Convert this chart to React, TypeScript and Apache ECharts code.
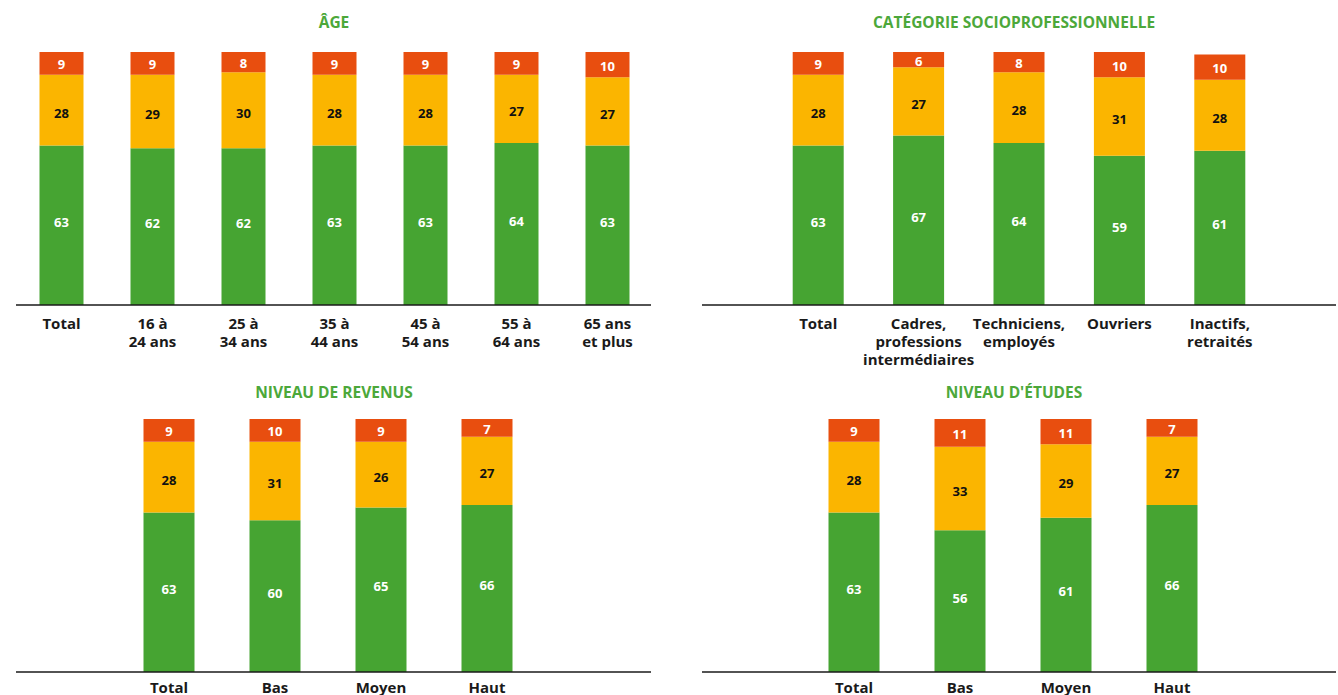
import React, { useEffect, useRef } from "react";
import * as echarts from "echarts";

const ageCategories = ["Total", "16 à\n24 ans", "25 à\n34 ans", "35 à\n44 ans", "45 à\n54 ans", "55 à\n64 ans", "65 ans\net plus"];
const ageGreen = [63, 62, 62, 63, 63, 64, 63];
const ageYellow = [28, 29, 30, 28, 28, 27, 27];
const ageRed = [9, 9, 8, 9, 9, 9, 10];

const cspCategories = ["Total", "Cadres,\nprofessions\nintermédiaires", "Techniciens,\nemployés", "Ouvriers", "Inactifs,\nretraités"];
const cspGreen = [63, 67, 64, 59, 61];
const cspYellow = [28, 27, 28, 31, 28];
const cspRed = [9, 6, 8, 10, 10];

const revCategories = ["Total", "Bas", "Moyen", "Haut"];
const revGreen = [63, 60, 65, 66];
const revYellow = [28, 31, 26, 27];
const revRed = [9, 10, 9, 7];

const etuCategories = ["Total", "Bas", "Moyen", "Haut"];
const etuGreen = [63, 56, 61, 66];
const etuYellow = [28, 33, 29, 27];
const etuRed = [9, 11, 11, 7];

const titles = ["ÂGE", "CATÉGORIE SOCIOPROFESSIONNELLE", "NIVEAU DE REVENUS", "NIVEAU D'ÉTUDES"];

const GREEN = "#46A432";
const YELLOW = "#FBB500";
const RED = "#E84E0F";
const FONT = "'Open Sans'";

export default function App() {
  const ref = useRef<HTMLDivElement>(null);
  useEffect(() => {
    if (!ref.current) return;
    const chart = echarts.init(ref.current, null, { renderer: "svg" });
    const panels = [
      { cats: ageCategories, g: ageGreen, y: ageYellow, r: ageRed, grid: { left: 16, width: 637, top: 52, height: 253 }, bw: 44, title: { x: 334, y: 22 }, line: [16, 651, 305], margin: 9, lh: 18 },
      { cats: cspCategories, g: cspGreen, y: cspYellow, r: cspRed, grid: { left: 768, width: 502, top: 52, height: 253 }, bw: 51, title: { x: 1014, y: 22 }, line: [702, 1336, 305], margin: 9, lh: 18 },
      { cats: revCategories, g: revGreen, y: revYellow, r: revRed, grid: { left: 116, width: 424, top: 419, height: 253 }, bw: 51, title: { x: 334, y: 392 }, line: [16, 651, 672], margin: 8, lh: 14 },
      { cats: etuCategories, g: etuGreen, y: etuYellow, r: etuRed, grid: { left: 801, width: 424, top: 419, height: 253 }, bw: 51, title: { x: 1014, y: 392 }, line: [702, 1336, 672], margin: 8, lh: 14 },
    ];
    const grids: any[] = [];
    const xAxes: any[] = [];
    const yAxes: any[] = [];
    const series: any[] = [];
    const graphics: any[] = [];
    panels.forEach((p, i) => {
      grids.push({ ...p.grid, containLabel: false, outerBoundsMode: "none" });
      xAxes.push({
        type: "category",
        gridIndex: i,
        data: p.cats,
        axisLine: { show: false },
        axisTick: { show: false },
        axisLabel: {
          interval: 0,
          margin: p.margin,
          color: "#1a1a1a",
          fontFamily: FONT,
          fontWeight: "bold",
          fontSize: 15,
          lineHeight: p.lh,
          verticalAlign: "top",
        },
      });
      yAxes.push({ type: "value", gridIndex: i, min: 0, max: 100, show: false, splitLine: { show: false } });
      const mk = (data: number[], color: string, labelColor: string, dy: number) => ({
        type: "bar",
        xAxisIndex: i,
        yAxisIndex: i,
        stack: "s" + i,
        data,
        barWidth: p.bw,
        itemStyle: { color },
        label: {
          show: true,
          position: "inside",
          offset: [0, dy],
          color: labelColor,
          fontFamily: FONT,
          fontWeight: "bold",
          fontSize: 13,
        },
      });
      series.push(mk(p.g, GREEN, "#ffffff", -3.5));
      series.push(mk(p.y, YELLOW, "#111111", 2.5));
      series.push(mk(p.r, RED, "#ffffff", 1));
      graphics.push({
        type: "text",
        x: p.title.x,
        y: p.title.y,
        style: {
          text: titles[i],
          align: "center",
          verticalAlign: "middle",
          fill: "#4CA83A",
          fontFamily: FONT,
          fontWeight: "bold",
          fontSize: 15.5,
        },
      });
      graphics.push({
        type: "line",
        shape: { x1: p.line[0], y1: p.line[2], x2: p.line[1], y2: p.line[2] },
        style: { stroke: "#1a1a1a", lineWidth: 1.5 },
        z: 10,
      });
    });
    chart.setOption({
      animation: false,
      backgroundColor: "#ffffff",
      grid: grids,
      xAxis: xAxes,
      yAxis: yAxes,
      series,
      graphic: graphics,
    });
    return () => chart.dispose();
  }, []);
  return (
    <div
      ref={ref}
      style={{ position: "absolute", left: 0, top: 0, width: 1338, height: 695 }}
    />
  );
}
